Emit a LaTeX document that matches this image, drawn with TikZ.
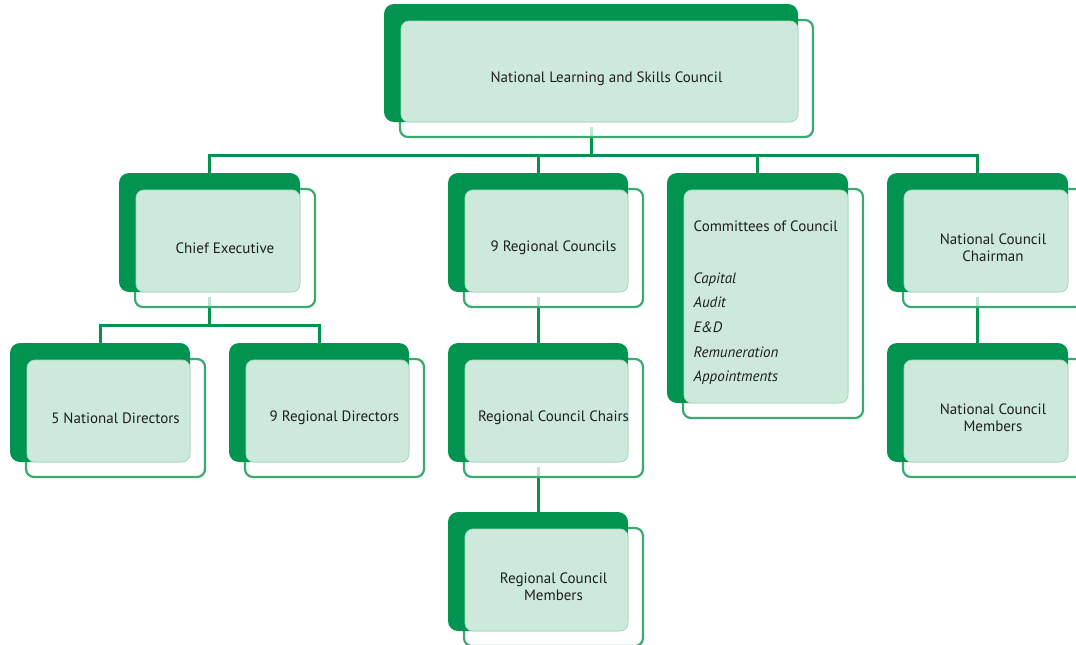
\documentclass[tikz,border=0pt]{standalone}
\usepackage{fontspec}
\setmainfont{PT Sans}
\pgfdeclarelayer{bg}
\pgfsetlayers{bg,main}
\definecolor{dkg}{HTML}{009450}
\definecolor{ltg}{HTML}{CDE9DB}
\definecolor{olg}{HTML}{3BAA6F}
\definecolor{edg}{HTML}{A8D8BE}
\definecolor{txtc}{HTML}{1E1E1E}
\tikzset{
  darkbox/.style={fill=dkg, rounded corners=10pt, inner sep=0pt, outer sep=0pt, draw=none},
  outlinebox/.style={draw=olg, line width=2.2pt, rounded corners=8pt, fill=white, fill opacity=0.75},
  lightbox/.style={fill=ltg, draw=edg, line width=0.8pt, rounded corners=8pt},
  link/.style={draw=dkg, line width=3pt},
  lbl/.style={font=\fontsize{15}{17.4}\selectfont, text=txtc, align=center, inner sep=0pt},
  itm/.style={font=\fontsize{15}{17.4}\selectfont\itshape, text=txtc, inner sep=0pt, anchor=base west},
}
% name, x0, y0, x1, y1
\newcommand\orgshape[5]{%
  \path[outlinebox] (#2+16,#3+16) rectangle (#4+15,#5+15);
  \node[darkbox, anchor=north west, minimum width={(#4-#2)*1pt}, minimum height={(#5-#3)*1pt}] (#1) at (#2,#3) {};
  \path[lightbox] (#2+17,#3+17) rectangle (#4,#5);
}
% name, x0, y0, x1, y1, text
\newcommand\orgbox[6]{%
  \orgshape{#1}{#2}{#3}{#4}{#5}
  \node[lbl] (#1-t) at ({(#2+#4+31)/2},{(#3+#5+31)/2}) {#6};
}
\begin{document}
\begin{tikzpicture}[x=1pt,y=-1pt]
\useasboundingbox (0,0) rectangle (1076,645);
\clip (0,0) rectangle (1076,645);

\orgbox{top}{384}{4}{798}{122}{National Learning and Skills Council}
\orgbox{ce}{119}{173}{300}{292}{Chief Executive}
\orgbox{rc}{448}{173}{628}{292}{9 Regional Councils}
\orgshape{cc}{667}{173}{848}{403}
\orgbox{ncc}{887}{173}{1068}{292}{National Council\\Chairman}
\orgbox{nd}{10}{343}{190}{462}{5 National Directors}
\orgbox{rd}{229}{343}{409}{462}{9 Regional Directors}
\orgbox{rcc}{448}{343}{628}{462}{Regional Council Chairs}
\orgbox{ncm}{887}{343}{1068}{462}{National Council\\Members}
\orgbox{rcm}{448}{512}{628}{631}{Regional Council\\Members}

\node[lbl, anchor=base west] (cc-t) at (693.5,231.7) {Committees of Council};
\node[itm] (cc-1) at (693.5,283) {Capital};
\node[itm] (cc-2) at (693.5,307.7) {Audit};
\node[itm] (cc-3) at (693.5,332.7) {E\&D};
\node[itm] (cc-4) at (693.5,357.3) {Remuneration};
\node[itm] (cc-5) at (693.5,381.7) {Appointments};

\begin{pgfonlayer}{bg}
  \fill[white] (0,0) rectangle (1076,645);
  \draw[link] ([yshift=-5pt]top.south) -- ++(0,28) coordinate (bus);
  \draw[link] (ce.north) |- (bus) -| (ncc.north);
  \draw[link] (rc.north) -- (rc.north |- bus);
  \draw[link] (cc.north) -- (cc.north |- bus);
  \draw[link] ([yshift=-5pt]ce.south) -- ++(0,28) coordinate (bus2);
  \draw[link] (nd.north) |- (bus2) -| (rd.north);
  \draw[link] ([yshift=-5pt]rc.south) -- (rcc.north);
  \draw[link] ([yshift=-5pt]rcc.south) -- (rcm.north);
  \draw[link] ([yshift=-5pt]ncc.south) -- (ncm.north);
\end{pgfonlayer}
\end{tikzpicture}
\end{document}
